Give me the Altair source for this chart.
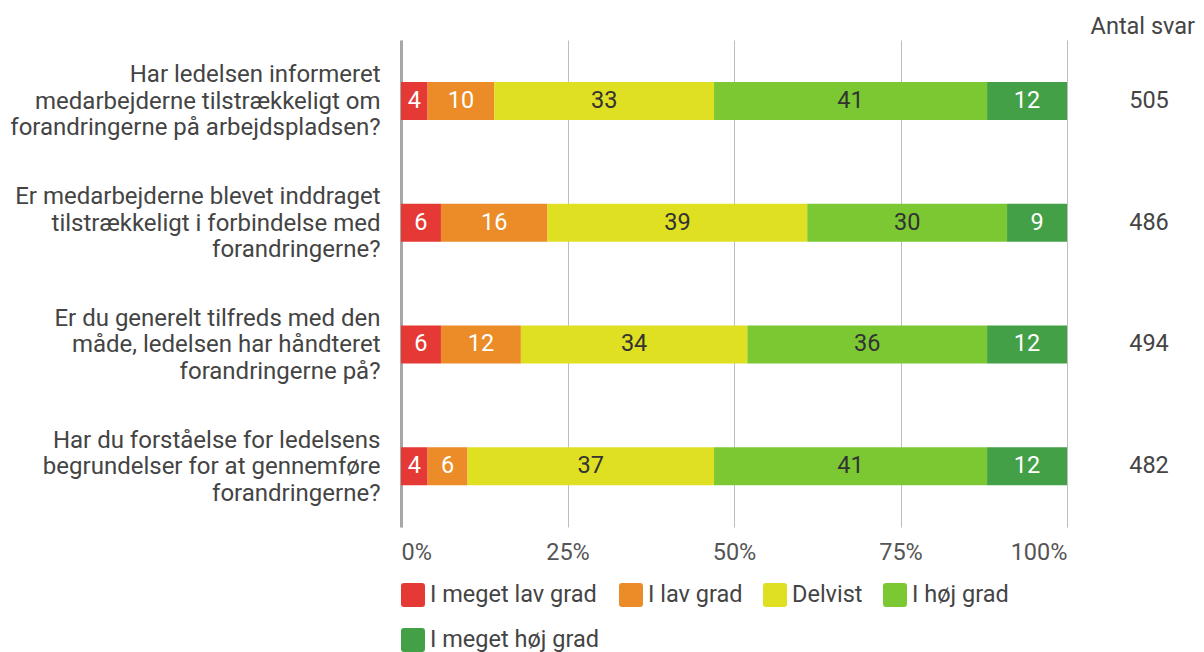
import altair as alt
import pandas as pd

questions = [
    "Har ledelsen informeret|medarbejderne tilstrækkeligt om|forandringerne på arbejdspladsen?",
    "Er medarbejderne blevet inddraget|tilstrækkeligt i forbindelse med|forandringerne?",
    "Er du generelt tilfreds med den|måde, ledelsen har håndteret|forandringerne på?",
    "Har du forståelse for ledelsens|begrundelser for at gennemføre|forandringerne?",
]
categories = ["I meget lav grad", "I lav grad", "Delvist", "I høj grad", "I meget høj grad"]
colors = ["#E53935", "#EB8C28", "#DFE022", "#7BC832", "#43A047"]
values = [
    [4, 10, 33, 41, 12],
    [6, 16, 39, 30, 9],
    [6, 12, 34, 36, 12],
    [4, 6, 37, 41, 12],
]
counts = [505, 486, 494, 482]
header = "Antal svar"

rows = []
for q, vals in zip(questions, values):
    for i, (c, v) in enumerate(zip(categories, vals)):
        rows.append({"question": q, "category": c, "order": i, "value": v})
df = pd.DataFrame(rows)
df_counts = pd.DataFrame({"question": questions, "count": counts})

W, H = 666, 487
PAD = {"left": 393, "top": 32, "right": 129, "bottom": 125}
FS = 23.5

rounded = "M-0.75,-1H0.75Q1,-1 1,-0.75V0.75Q1,1 0.75,1H-0.75Q-1,1 -1,0.75V-0.75Q-1,-1 -0.75,-1Z"

y_enc = alt.Y(
    "question:N",
    sort=questions,
    scale=alt.Scale(paddingInner=0, paddingOuter=0),
    axis=alt.Axis(
        title=None, ticks=False, domain=True, domainColor="#a8a8a8", domainWidth=3,
        labelExpr="split(datum.label, '|')", labelFontSize=24, labelLineHeight=26.5,
        labelColor="#444444", labelPadding=21, labelLimit=0, labelAlign="right",
        labelBaseline="middle", labelOffset=-25.5,
    ),
)

base = alt.Chart(df).transform_stack(
    stack="value", groupby=["question"], as_=["x0", "x1"],
    offset="normalize", sort=[alt.SortField("order", order="ascending")],
)

bars = base.mark_bar(height=38).encode(
    x=alt.X(
        "x0:Q",
        scale=alt.Scale(domain=[0, 1], nice=False, zero=True),
        axis=alt.Axis(
            title=None, format="%", values=[0, 0.25, 0.5, 0.75, 1], grid=True,
            gridColor="#bdbdbd", gridWidth=1, ticks=False, domain=False,
            labelFontSize=FS, labelColor="#555555", labelPadding=13, labelFlush=True,
        ),
    ),
    x2="x1:Q",
    y=y_enc,
    color=alt.Color(
        "category:N",
        sort=categories,
        scale=alt.Scale(domain=categories, range=colors),
        legend=alt.Legend(
            title=None, orient="none", legendX=0, legendY=543, direction="horizontal",
            columns=4, symbolType=rounded, symbolSize=576, symbolStrokeWidth=0,
            symbolOpacity=1, labelFontSize=FS, labelColor="#444444", labelOffset=5,
            columnPadding=20, rowPadding=21, labelLimit=0,
        ),
    ),
)

labels = base.transform_calculate(mid="(datum.x0 + datum.x1) / 2").mark_text(
    fontSize=FS
).encode(
    x=alt.X("mid:Q"),
    y=alt.Y("question:N", sort=questions),
    text=alt.Text("value:Q"),
    color=alt.condition(
        "datum.category == 'Delvist' || datum.category == 'I høj grad'",
        alt.value("#333333"),
        alt.value("#ffffff"),
    ),
)

count_text = alt.Chart(df_counts).mark_text(fontSize=FS, color="#444444").encode(
    x=alt.value(748),
    y=alt.Y("question:N", sort=questions),
    text=alt.Text("count:Q"),
)

head = alt.Chart(pd.DataFrame({"t": [header]})).mark_text(
    fontSize=FS, color="#444444", align="right"
).encode(
    x=alt.value(794),
    y=alt.value(-13),
    text="t:N",
)

chart = alt.layer(bars, labels, count_text, head).properties(
    width=W, height=H,
    autosize=alt.AutoSizeParams(type="none"),
    padding=PAD,
).configure(font="Roboto").configure_view(stroke=None)

chart.save("out.html", embed_options={"renderer": "svg", "actions": False})
